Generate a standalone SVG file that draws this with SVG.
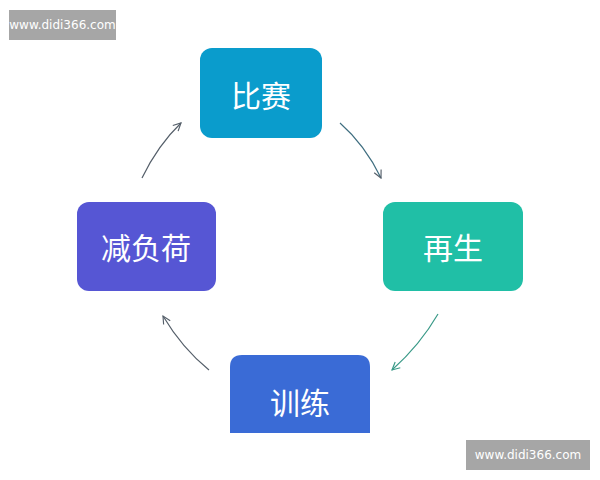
<svg xmlns="http://www.w3.org/2000/svg" width="600" height="480" viewBox="0 0 600 480">
<style>
.n text{font-family:"Noto Sans CJK SC","Noto Sans",sans-serif;font-size:30px;fill:#fff;text-anchor:middle;dominant-baseline:central}
.wm text{font-family:"DejaVu Sans",sans-serif;font-size:12px;fill:#fff;text-anchor:middle;dominant-baseline:central}
.c path{fill:none;stroke-width:1.2}
</style>
<defs>
<marker id="ag" viewBox="0 0 10 10" refX="9" refY="5" markerWidth="8" markerHeight="8" orient="auto"><path d="M1,1 L9,5 L1,9" fill="none" stroke="#555f6a" stroke-width="1.2"/></marker>
<marker id="at" viewBox="0 0 10 10" refX="9" refY="5" markerWidth="8" markerHeight="8" orient="auto"><path d="M1,1 L9,5 L1,9" fill="none" stroke="#3a9a88" stroke-width="1.2"/></marker>
</defs>
<rect width="600" height="480" fill="#fff"/>
<g class="wm" id="wm1"><rect x="9" y="10" width="107" height="30" fill="#a6a6a6"/><text x="62.5" y="25">www.didi366.com</text></g>
<g class="wm" id="wm2"><rect x="466" y="440" width="124" height="30" fill="#a6a6a6"/><text x="528" y="455">www.didi366.com</text></g>
<g class="n" id="n1"><rect x="200" y="48" width="122" height="90" rx="12" fill="#0a9ccc"/><text x="261" y="94">比赛</text></g>
<g class="n" id="n2"><rect x="383" y="202" width="140" height="89" rx="12" fill="#20bfa6"/><text x="453" y="246">再生</text></g>
<g class="n" id="n3"><rect x="77" y="202" width="139" height="89" rx="12" fill="#5656d4"/><text x="146" y="246">减负荷</text></g>
<g class="n" id="n4"><path d="M242,355 H358 Q370,355 370,367 V433 H230 V367 Q230,355 242,355 Z" fill="#3a6bd6"/><text x="300" y="401">训练</text></g>
<g class="c" id="connectors">
<path d="M142,178 Q158,145 181,123" stroke="#555f6a" marker-end="url(#ag)"/>
<path d="M340,123 Q365,145 381,178" stroke="#3f6e80" marker-end="url(#ag)"/>
<path d="M438,314 Q420,345 392,370" stroke="#3a9a88" marker-end="url(#at)"/>
<path d="M209,370 Q182,348 163,316" stroke="#555f6a" marker-end="url(#ag)"/>
</g>
</svg>
